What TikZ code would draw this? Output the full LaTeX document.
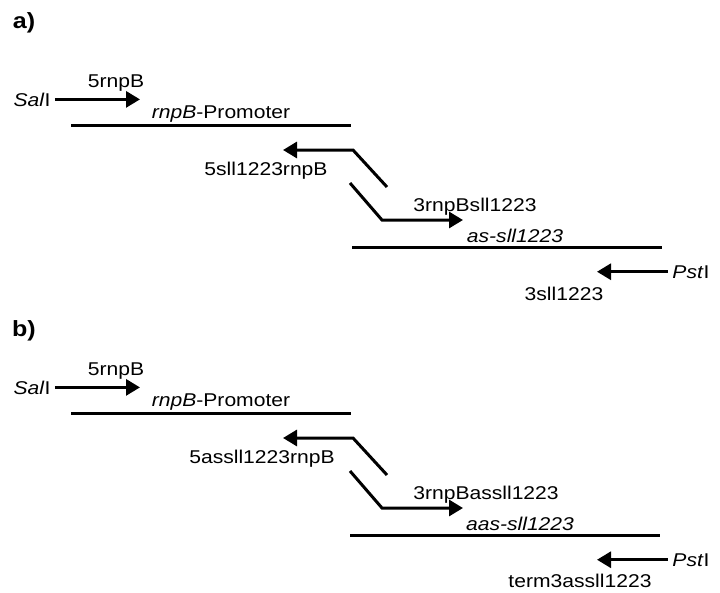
\documentclass[tikz,border=0pt]{standalone}
\usepackage{fontspec}
\setmainfont{Liberation Sans}[FakeStretch=1.14]
\usetikzlibrary{arrows.meta}

\begin{document}
\begin{tikzpicture}[x=1pt,y=-1pt,line width=3pt,
    font=\fontsize{18.5pt}{22pt}\selectfont,
    lbl/.style={anchor=base,inner sep=0pt},
    site/.style={anchor=base,inner ysep=0pt,inner xsep=3pt},
    tag/.style={anchor=base,inner sep=0pt,font=\fontsize{22pt}{26pt}\selectfont\bfseries},
    primer/.style={-{Triangle[length=14pt,width=16pt]}}]
  \useasboundingbox (0,0) rectangle (720,592);

  % panel a
  \node[tag] (a-tag) at (24,28) {a)};
  \node[site] (a-sal) at (32,106) {\textit{Sal}I};
  \node[lbl] (a-f5) at (116,87) {5rnpB};
  \node[lbl] (a-prom) at (221,118) {\textit{rnpB}-Promoter};
  \node[lbl] (a-r5) at (266,175) {5sll1223rnpB};
  \node[lbl] (a-f3) at (475,211) {3rnpBsll1223};
  \node[lbl] (a-gene) at (515,242) {\textit{as-sll1223}};
  \node[site] (a-pst) at (691,278) {\textit{Pst}I};
  \node[lbl] (a-r3) at (564,300) {3sll1223};
  \coordinate (a-f5tip) at (140,100);
  \coordinate (a-p1) at (71,125);
  \coordinate (a-p2) at (351,125);
  \coordinate (a-r5s) at (387,187);
  \coordinate (a-r5k) at (353,150);
  \coordinate (a-r5tip) at (283,150);
  \coordinate (a-f3s) at (350,183);
  \coordinate (a-f3k) at (382,220);
  \coordinate (a-f3tip) at (463,220);
  \coordinate (a-g1) at (352,247);
  \coordinate (a-g2) at (662,247);
  \coordinate (a-r3tip) at (597,272);
  \draw[primer] (a-sal.east) -- (a-sal.east -| a-f5tip);
  \draw (a-p1) -- (a-p2);
  \draw[primer] (a-r5s) -- (a-r5k) -- (a-r5tip);
  \draw[primer] (a-f3s) -- (a-f3k) -- (a-f3tip);
  \draw (a-g1) -- (a-g2);
  \draw[primer] (a-pst.west) -- (a-pst.west -| a-r3tip);

  % panel b
  \node[tag] (b-tag) at (24,336) {b)};
  \node[site] (b-sal) at (32,394) {\textit{Sal}I};
  \node[lbl] (b-f5) at (116,375) {5rnpB};
  \node[lbl] (b-prom) at (221,406) {\textit{rnpB}-Promoter};
  \node[lbl] (b-r5) at (262,463) {5assll1223rnpB};
  \node[lbl] (b-f3) at (486,499) {3rnpBassll1223};
  \node[lbl] (b-gene) at (520,530) {\textit{aas-sll1223}};
  \node[site] (b-pst) at (691,566) {\textit{Pst}I};
  \node[lbl] (b-r3) at (580,587) {term3assll1223};
  \coordinate (b-f5tip) at (140,388);
  \coordinate (b-p1) at (71,413);
  \coordinate (b-p2) at (351,413);
  \coordinate (b-r5s) at (387,475);
  \coordinate (b-r5k) at (353,438);
  \coordinate (b-r5tip) at (283,438);
  \coordinate (b-f3s) at (350,471);
  \coordinate (b-f3k) at (382,508);
  \coordinate (b-f3tip) at (463,508);
  \coordinate (b-g1) at (350,535);
  \coordinate (b-g2) at (660,535);
  \coordinate (b-r3tip) at (597,560);
  \draw[primer] (b-sal.east) -- (b-sal.east -| b-f5tip);
  \draw (b-p1) -- (b-p2);
  \draw[primer] (b-r5s) -- (b-r5k) -- (b-r5tip);
  \draw[primer] (b-f3s) -- (b-f3k) -- (b-f3tip);
  \draw (b-g1) -- (b-g2);
  \draw[primer] (b-pst.west) -- (b-pst.west -| b-r3tip);
\end{tikzpicture}
\end{document}
